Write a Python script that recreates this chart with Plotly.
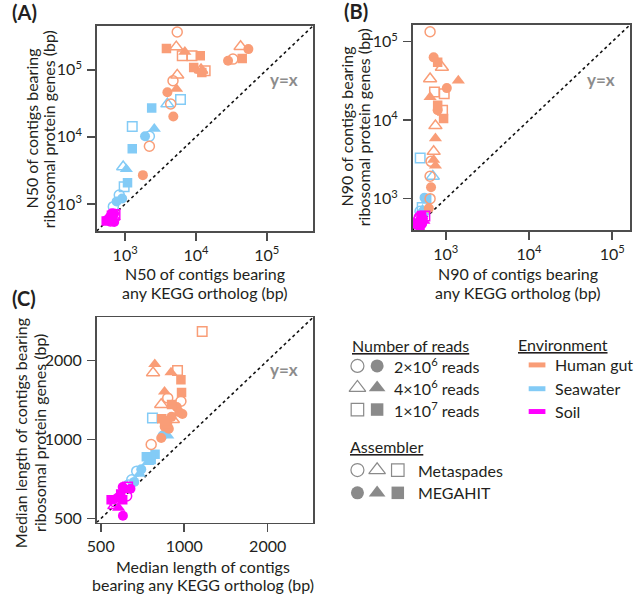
import plotly.graph_objects as go

# ---------------- data ----------------
# group key: environment (G=Human gut, S=Seawater, L=Soil) + shape (c=2e6, t=4e6, s=1e7 reads) + fill (o=Metaspades, f=MEGAHIT)
A_x = [5440, 3830, 5270, 6970, 6400, 8790, 11500, 9290, 12100, 13500, 12100, 11800,
       42700, 55000, 28400, 33300, 45000, 5440, 4740, 3950, 5320, 4400, 4790, 2200, 1780,
       6050, 3950, 2370, 1260, 2580, 1910, 2200, 1260, 938, 1040, 1080, 968, 826, 908, 757, 681,
       560, 600, 640, 700, 620, 680, 720, 580, 660, 700, 540, 650]
A_y = [365000, 207000, 219000, 185000, 161000, 161000, 161000, 108000, 96600, 96600, 91200, 100000,
       222000, 203000, 136000, 144000, 147000, 83200, 68700, 46200, 51800, 30900, 20100, 7240, 2690,
       36000, 30900, 26900, 14300, 13200, 10200, 10200, 6680, 3580, 3300, 2070, 1810, 1360, 1210, 1090, 912,
       580, 620, 680, 720, 560, 640, 700, 650, 600, 540, 560, 730]
A_grp = ["Gco", "Gsf", "Gto", "Gtf", "Gso", "Gso", "Gsf", "Gsf", "Gtf", "Gso", "Gsf", "Gto",
         "Gto", "Gcf", "Gcf", "Gco", "Gsf", "Gto", "Gco", "Gcf", "Gtf", "Gco", "Gcf", "Gco", "Gcf",
         "Sso", "Sto", "Ssf", "Sso", "Stf", "Scf", "Sco", "Ssf", "Sto", "Stf", "Ssf", "Sso", "Sco", "Scf", "Scf", "Sco",
         "Lcf", "Ltf", "Lsf", "Lcf", "Lco", "Lto", "Lso", "Ltf", "Lsf", "Lcf", "Lsf", "Lcf"]

B_x = [647, 714, 798, 897, 647, 1028, 1413, 730, 957, 647, 798, 914, 940, 798, 750, 750, 714, 714, 664, 750, 647, 664, 647, 624,
       492, 697, 555, 589, 520, 525, 490, 550,
       440, 470, 500, 530, 560, 450, 490, 520, 545, 480, 510, 460]
B_y = [134000, 63100, 54500, 47100, 33600, 25600, 32000, 22800, 21700, 19700, 15500, 13400, 10500, 13400, 8490, 5870, 3990, 3130, 2990, 2630, 1930, 1400, 1000, 755,
       3290, 1930, 1030, 1000, 769, 724, 692, 661,
       470, 500, 520, 560, 600, 540, 460, 480, 520, 580, 610, 490]
B_grp = ["Gco", "Gcf", "Gsf", "Gto", "Gto", "Gcf", "Gtf", "Gso", "Gso", "Gtf", "Gsf", "Gso", "Gsf", "Gcf", "Gto", "Gtf", "Gto", "Gtf", "Gco", "Gtf", "Gco", "Gcf", "Gco", "Gcf",
         "Sso", "Sto", "Scf", "Ssf", "Sso", "Stf", "Sco", "Scf",
         "Lcf", "Ltf", "Lsf", "Lcf", "Lso", "Lto", "Lsf", "Lcf", "Ltf", "Lco", "Lsf", "Lsf"]

C_x = [1161, 783, 772, 896, 946, 973, 978, 849, 826, 872, 973, 940, 960, 900, 985, 830, 870, 900, 910, 850, 880, 760, 826, 850,
       768, 836, 872, 785, 760, 740, 730, 674, 690, 700, 647, 630, 660,
       601, 560, 575, 590, 610, 625, 640, 560, 580, 600, 620, 600, 545]
C_y = [2575, 1936, 1795, 1800, 1830, 1690, 1509, 1521, 1359, 1439, 1398, 1330, 1270, 1360, 1250, 1200, 1150, 1220, 1190, 1120, 1100, 957, 1014, 1180,
       1208, 1035, 1035, 880, 840, 820, 860, 758, 740, 770, 703, 672, 690,
       513, 580, 600, 620, 640, 660, 650, 560, 550, 590, 610, 660, 590]
C_grp = ["Gso", "Gtf", "Gto", "Gtf", "Gso", "Gsf", "Gsf", "Gtf", "Gto", "Gco", "Gco", "Gcf", "Gcf", "Gsf", "Gcf", "Gsf", "Gsf", "Gcf", "Gto", "Gcf", "Gcf", "Gco", "Gcf", "Gsf",
         "Sso", "Scf", "Stf", "Ssf", "Ssf", "Stf", "Ssf", "Sco", "Stf", "Scf", "Sco", "Sco", "Scf",
         "Lcf", "Lco", "Lcf", "Lsf", "Ltf", "Lso", "Lcf", "Lto", "Ltf", "Lsf", "Lco", "Lcf", "Lsf"]

A_ticks = [1000, 10000, 100000]
A_ticktext = ["10<sup>3</sup>", "10<sup>4</sup>", "10<sup>5</sup>"]
C_ticks = [500, 1000, 2000]
C_ticktext = ["500", "1000", "2000"]

reads_labels = ["2×10<sup>6</sup> reads", "4×10<sup>6</sup> reads", "1×10<sup>7</sup> reads"]
env_labels = ["Human gut", "Seawater", "Soil"]
asm_labels = ["Metaspades", "MEGAHIT"]

# ---------------- styles ----------------
COL = {"G": "#F99D77", "S": "#83CBF6", "L": "#FF00FF"}
SYM = {"c": "circle", "t": "triangle-up", "s": "square"}
SIZE = {"c": 10, "t": 11.5, "s": 9.5}
FONT = "Lato"
TXT = "#231F20"
AX = "#4D4D4D"
GRAYM = "#8A8A8A"

W, H = 634, 598

def dom_x(a, b):
    return [a / W, b / W]

def dom_y(top, bot):
    return [1 - bot / H, 1 - top / H]

fig = go.Figure()

def add_panel(xs, ys, grps, xa, ya, lo, hi):
    # y = x line
    fig.add_trace(go.Scatter(x=[10 ** lo, 10 ** hi], y=[10 ** lo, 10 ** hi], mode="lines",
                             line=dict(color="#111111", width=1.6, dash="dot"),
                             xaxis=xa, yaxis=ya, showlegend=False, hoverinfo="skip"))
    for env in ["S", "G", "L"]:
        for fill in ["o", "f"]:
            for shp in ["c", "t", "s"]:
                key = env + shp + fill
                px = [x for x, g in zip(xs, grps) if g == key]
                py = [y for y, g in zip(ys, grps) if g == key]
                if not px:
                    continue
                sym = SYM[shp] + ("-open" if fill == "o" else "")
                fig.add_trace(go.Scatter(
                    x=px, y=py, mode="markers", xaxis=xa, yaxis=ya, showlegend=False,
                    marker=dict(symbol=sym, size=SIZE[shp], color=COL[env],
                                line=dict(width=1.5 if fill == "o" else 0, color=COL[env]))))

add_panel(A_x, A_y, A_grp, "x", "y", 2.597, 5.655)
add_panel(B_x, B_y, B_grp, "x2", "y2", 2.600, 5.215)
add_panel(C_x, C_y, C_grp, "x3", "y3", 2.684, 3.465)

axcommon = dict(type="log", showgrid=False, zeroline=False, showline=True, mirror=True,
                linecolor=AX, linewidth=1.5, ticks="outside", ticklen=8, tickwidth=1.5,
                tickcolor=AX, tickfont=dict(family=FONT, size=16, color=TXT))

fig.update_layout(
    width=W, height=H, margin=dict(l=0, r=0, t=0, b=0),
    paper_bgcolor="white", plot_bgcolor="rgba(0,0,0,0)", showlegend=False,
    xaxis=dict(domain=dom_x(88, 308), range=[2.597, 5.655], anchor="y", ticklabelstandoff=1,
               tickvals=A_ticks, ticktext=A_ticktext, **axcommon),
    yaxis=dict(domain=dom_y(26, 233), range=[2.597, 5.655], anchor="x", ticklabelstandoff=2,
               tickvals=A_ticks, ticktext=A_ticktext, **axcommon),
    xaxis2=dict(domain=dom_x(409, 630), range=[2.600, 5.215], anchor="y2", ticklabelstandoff=1,
                tickvals=A_ticks, ticktext=A_ticktext, **axcommon),
    yaxis2=dict(domain=dom_y(25, 232), range=[2.600, 5.215], anchor="x2", ticklabelstandoff=2,
                tickvals=A_ticks, ticktext=A_ticktext, **axcommon),
    xaxis3=dict(domain=dom_x(88, 308), range=[2.684, 3.465], anchor="y3", ticklabelstandoff=1,
                tickvals=C_ticks, ticktext=C_ticktext, **axcommon),
    yaxis3=dict(domain=dom_y(320, 527), range=[2.684, 3.465], anchor="x3", ticklabelstandoff=2,
                tickvals=C_ticks, ticktext=C_ticktext, **axcommon),
    xaxis4=dict(domain=[0, 1], range=[0, W], visible=False, anchor="y4", fixedrange=True),
    yaxis4=dict(domain=[0, 1], range=[H, 0], visible=False, anchor="x4", fixedrange=True),
)

# ---------------- legend (drawn in a pixel-coordinate overlay axis) ----------------
shape_keys = ["c", "t", "s"]
for i, shp in enumerate(shape_keys):
    yy = [369, 391, 413][i]
    fig.add_trace(go.Scatter(x=[353], y=[yy], mode="markers", xaxis="x4", yaxis="y4", showlegend=False,
                             marker=dict(symbol=SYM[shp] + "-open", size=SIZE[shp] + 3, color=GRAYM,
                                         line=dict(width=1.2, color=GRAYM))))
    fig.add_trace(go.Scatter(x=[373], y=[yy], mode="markers", xaxis="x4", yaxis="y4", showlegend=False,
                             marker=dict(symbol=SYM[shp], size=SIZE[shp] + 3, color=GRAYM, line=dict(width=0))))
for j, fill in enumerate(["-open", ""]):
    yy = [474, 497][j]
    for k, shp in enumerate(shape_keys):
        xx = [353, 373, 394][k]
        fig.add_trace(go.Scatter(x=[xx], y=[yy], mode="markers", xaxis="x4", yaxis="y4", showlegend=False,
                                 marker=dict(symbol=SYM[shp] + fill, size=SIZE[shp] + 3, color=GRAYM,
                                             line=dict(width=1.2 if fill else 0, color=GRAYM))))

anns = []

def ann(x, y, text, size=16, angle=0, xanchor="center", bold=False, color=TXT):
    anns.append(dict(x=x, y=y, xref="x4", yref="y4", text=("<b>%s</b>" % text) if bold else text,
                     showarrow=False, textangle=angle, xanchor=xanchor, yanchor="middle",
                     font=dict(family=FONT, size=size, color=color)))

ann(345, 348, "<u>Number of reads</u>", xanchor="left")
for i, lab in enumerate(reads_labels):
    ann(388, [369, 391, 413][i], lab, xanchor="left")
ann(514, 347, "<u>Environment</u>", xanchor="left")
envs = ["G", "S", "L"]
for i, lab in enumerate(env_labels):
    yy = [368, 392, 415][i]
    ann(552, yy, lab, xanchor="left")
    fig.add_shape(type="rect", xref="x4", yref="y4", x0=527, x1=544, y0=yy - 2.5, y1=yy + 2.5,
                  fillcolor=COL[envs[i]], line=dict(width=0))
ann(343, 450, "<u>Assembler</u>", xanchor="left")
for j, lab in enumerate(asm_labels):
    ann(412, [474, 497][j], lab, xanchor="left")

# panel letters
ann(0, 12, "(A)", size=20, xanchor="left", bold=True)
ann(337, 11, "(B)", size=20, xanchor="left", bold=True)
ann(0, 301, "(C)", size=20, xanchor="left", bold=True)

# y=x labels
for (x, y) in [(278, 80), (600, 80), (278, 373)]:
    ann(x, y, "y=x", size=17, bold=True, color="#8C8C8C")

# axis titles
ann(198, 276, "N50 of contigs bearing")
ann(198, 295, "any KEGG ortholog (bp)")
ann(22, 130, "N50 of contigs bearing", angle=-90)
ann(40, 130, "ribosomal protein genes (bp)", angle=-90)
ann(516, 276, "N90 of contigs bearing")
ann(516, 295, "any KEGG ortholog (bp)")
ann(342, 128, "N90 of contigs bearing", angle=-90)
ann(360, 128, "ribosomal protein genes (bp)", angle=-90)
ann(196, 571, "Median length of contigs")
ann(196, 589, "bearing any KEGG ortholog (bp)")
ann(11, 437, "Median length of contigs bearing", angle=-90)
ann(30, 437, "ribosomal protein genes (bp)", angle=-90)

fig.update_layout(annotations=anns)
fig.write_html("out.html", config={"displayModeBar": False, "staticPlot": True},
               post_script="document.body.style.margin='0';document.body.style.padding='0';")
